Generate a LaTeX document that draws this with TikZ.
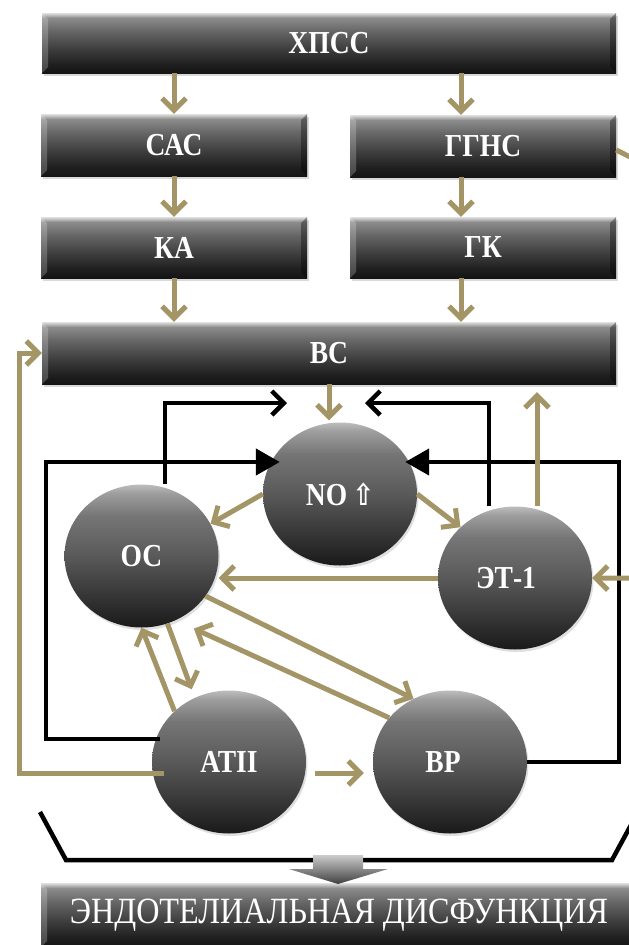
\documentclass[tikz,border=0pt]{standalone}
\usepackage{fontspec}
\setmainfont{Liberation Serif}
\newfontfamily\symf{DejaVu Sans}
\usetikzlibrary{arrows.meta,shapes.geometric,shadows,calc}
\definecolor{tanc}{RGB}{163,149,101}
\newcommand{\nt}[1]{\scalebox{0.86}[1]{#1}}
\pgfdeclareverticalshading{boxsh}{100bp}{color(0bp)=(black!92); color(25bp)=(black!92); color(32bp)=(black!88); color(45bp)=(black!76); color(60bp)=(black!60); color(71bp)=(black!45); color(73.5bp)=(black!24); color(75bp)=(black!12); color(100bp)=(black!12)}
\pgfdeclareverticalshading{ballsh}{100bp}{color(0bp)=(black!90); color(25bp)=(black!90); color(33bp)=(black!82); color(50bp)=(black!65); color(64bp)=(black!54); color(72bp)=(black!38); color(75bp)=(black!26); color(100bp)=(black!26)}
\begin{document}
\begin{tikzpicture}[x=1pt,y=-1pt,
  bx/.style={rectangle, shading=boxsh, draw=none, inner sep=0pt, text=white,
    font=\bfseries\fontsize{32}{34}\selectfont,
    drop shadow={opacity=0.3, shadow xshift=1.5pt, shadow yshift=-2.5pt},
    path picture={
      \fill[white,opacity=0.22] (path picture bounding box.north west) -- (path picture bounding box.south west) -- ([xshift=6pt,yshift=6pt]path picture bounding box.south west) -- ([xshift=6pt,yshift=-6pt]path picture bounding box.north west) -- cycle;
      \fill[black,opacity=0.35] (path picture bounding box.north east) -- (path picture bounding box.south east) -- ([xshift=-6pt,yshift=6pt]path picture bounding box.south east) -- ([xshift=-6pt,yshift=-6pt]path picture bounding box.north east) -- cycle;
    }},
  ball/.style={ellipse, minimum width=154pt, minimum height=143pt, inner sep=0pt,
    shading=ballsh, text=white, font=\bfseries\fontsize{32}{34}\selectfont,
    drop shadow={opacity=0.25, shadow xshift=1.5pt, shadow yshift=-2.5pt}},
  tanarr/.style={draw=tanc, line width=5pt, -{Straight Barb[length=12pt,width=24pt]}},
  blkopen/.style={draw=black, line width=4.5pt, -{Straight Barb[length=12pt,width=24pt]}},
  blkfill/.style={draw=black, line width=4.5pt, -{Triangle[length=24pt,width=26pt]}},
]
\useasboundingbox (0,0) rectangle (629,945);
\clip (0,0) rectangle (629,945);

% boxes
\node[bx, minimum width=574pt, minimum height=60pt] (xpss) at (329,43) {\nt{ХПСС}};
\node[bx, minimum width=266pt, minimum height=62pt] (sas) at (174,145) {\nt{САС}};
\node[bx, minimum width=266pt, minimum height=62pt] (ggns) at (483,146) {\nt{ГГНС}};
\node[bx, minimum width=266pt, minimum height=61pt] (ka) at (174,247.5) {\nt{КА}};
\node[bx, minimum width=266pt, minimum height=61pt] (gk) at (483,247.5) {\nt{ГК}};
\node[bx, minimum width=574pt, minimum height=62pt] (vs) at (329,353) {\nt{ВС}};

% circles
\node[ball] (oc) at (141.5,556) {\nt{ОС}};
\node[ball] (no) at (340,494) {\nt{NO}\,{\symf\fontsize{30}{32}\selectfont\nt{⇧}}};
\node[ball] (et) at (515,578) {\nt{ЭТ-1}\kern18pt};
\node[ball] (at) at (229,762) {\nt{АТII}};
\node[ball] (bp) at (450,762) {\nt{ВР}\kern14pt};

% helper coordinates
\coordinate (rx) at (461,0);
\coordinate (tl) at (287,403);
\coordinate (tr) at (365,403);
\coordinate (bl) at (46,462);
\coordinate (brc) at (619,462);
\coordinate (lc) at (19,353);
\coordinate (gr) at (660,172);

% top chain
\draw[tanarr] (xpss.south -| sas.north) -- (sas.north);
\draw[tanarr] (sas.south) -- (ka.north);
\draw[tanarr] (ka.south) -- (vs.north -| ka.south);
\draw[tanarr] (xpss.south -| rx) -- (ggns.north -| rx);
\draw[tanarr] (ggns.south -| rx) -- (gk.north -| rx);
\draw[tanarr] (gk.south -| rx) -- (vs.north -| rx);

% VS -> NO
\draw[tanarr] ($(vs.south -| no.north)+(-11,0)$) -- ($(no.north)+(-11,-2)$);

% black open arrows
\draw[blkopen] ($(oc.north)+(23.5,0)$) |- (tl);
\draw[blkopen] ($(et.north)+(-26,0)$) |- (tr);

% black filled arrows
\draw[blkfill] ($(at.west)+(8,-23)$) -| (bl) -- ($(no.west)+(17,-32)$);
\draw[blkfill] (bp.east) -| (brc) -- ($(no.east)+(-12,-32)$);

% tan connectors
\draw[tanarr] (no.west) -- (oc.25);
\draw[tanarr] (no.east) -- (et.137);
\draw[tanarr] ($(et.north)+(22,0)$) -- ($(vs.south -| et.north)+(22,8)$);
\draw[tanarr] (et.west) -- (oc.east |- et.west);
\draw[tanarr] ($(ggns.east)+(0,4)$) -- (gr) |- (et.east);
\draw[tanarr] (oc.-32) -- (bp.120);
\draw[tanarr, shorten >=20pt] (bp.144) -- (oc.-62);
\draw[tanarr] (at.137) -- (oc.south);
\draw[tanarr, shorten >=9pt] (oc.-69) -- (at.118);
\draw[tanarr, shorten <=9pt, shorten >=9pt] ($(at.east)+(0,11)$) -- ($(bp.west)+(0,11)$);
\draw[tanarr] ($(at.west)+(12,11)$) -| (lc) -- (vs.west);

% bracket
\draw[line width=4.5pt, line join=miter] (40,812) -- (66,860) -- (612,860) -- (638,812);

% bottom banner
\node[bx, minimum width=596pt, minimum height=64pt, font=\fontsize{37}{40}\selectfont] (ed) at (339,915) {\scalebox{0.87}[1]{ЭНДОТЕЛИАЛЬНАЯ ДИСФУНКЦИЯ}};

% block arrow
\shade[top color=black!20, bottom color=black!75] (313,855) -- (363,855) -- (363,869) -- (388,869) -- (338,884) -- (289,869) -- (313,869) -- cycle;
\end{tikzpicture}
\end{document}
